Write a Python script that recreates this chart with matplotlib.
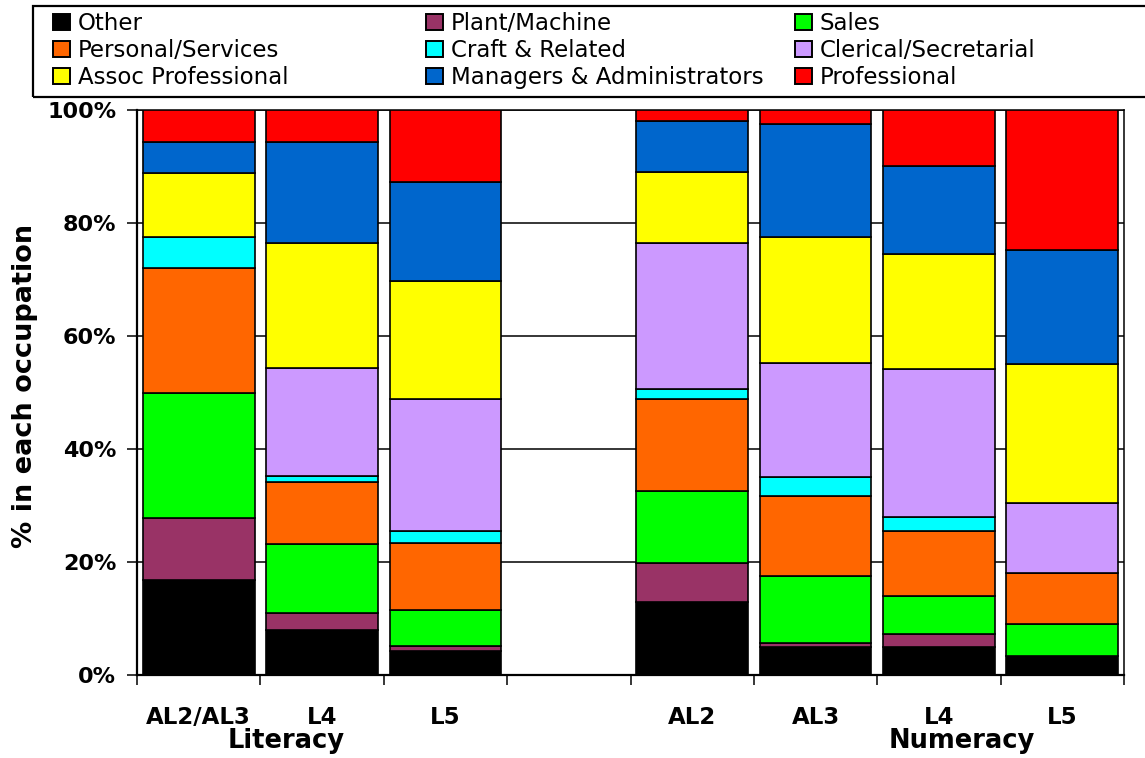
import matplotlib
matplotlib.use("Agg")
from matplotlib import pyplot as plt
from matplotlib.patches import Patch, Rectangle
from matplotlib.transforms import blended_transform_factory
import numpy as np

# bar labels, with an empty slot between the two groups
bar_labels = ["AL2/AL3", "L4", "L5", "AL2", "AL3", "L4", "L5"]
bar_pos = [0, 1, 2, 4, 5, 6, 7]
groups = ["Literacy", "Numeracy"]
group_x = [0.707, 6.185]

occupations = ["Other", "Plant/Machine", "Sales", "Personal/Services",
               "Craft & Related", "Clerical/Secretarial", "Assoc Professional",
               "Managers & Administrators", "Professional"]
colors = ["#000000", "#993366", "#00FF00", "#FF6600", "#00FFFF",
          "#CC99FF", "#FFFF00", "#0066CC", "#FF0000"]

# % in each occupation, one list per occupation (bars in order of bar_labels)
other = [16.8, 8.0, 4.3, 12.9, 5.0, 5.0, 3.4]
plant = [11.0, 3.0, 0.9, 7.0, 0.7, 2.3, 0.0]
sales = [22.1, 12.2, 6.3, 12.7, 11.9, 6.6, 5.6]
personal = [22.1, 11.0, 11.8, 16.2, 14.1, 11.5, 9.0]
craft = [5.5, 1.1, 2.1, 1.9, 3.4, 2.6, 0.0]
clerical = [0.0, 19.0, 23.4, 25.7, 20.1, 26.1, 12.4]
assoc = [11.3, 22.2, 21.0, 12.7, 22.4, 20.5, 24.6]
managers = [5.5, 17.8, 17.4, 9.0, 20.0, 15.5, 20.2]
professional = [5.7, 5.7, 12.8, 1.9, 2.4, 9.9, 24.8]

series = [other, plant, sales, personal, craft, clerical, assoc, managers, professional]

W, H = 1145, 758
fig = plt.figure(figsize=(W / 100, H / 100), dpi=100)
ax_l, ax_r, ax_t, ax_b = 137, 1124, 110, 675
ax = fig.add_axes([ax_l / W, 1 - ax_b / H, (ax_r - ax_l) / W, (ax_b - ax_t) / H])

bottom = np.zeros(len(bar_pos))
handles = []
for vals, name, col in zip(series, occupations, colors):
    vals = np.array(vals)
    ax.bar(bar_pos, vals, width=0.905, bottom=bottom, color=col,
           edgecolor="black", linewidth=1.2, zorder=3)
    bottom += vals
    handles.append(Patch(facecolor=col, edgecolor="black", linewidth=1.4, label=name))

ax.set_xlim(-0.5, 7.5)
ax.set_ylim(0, 100)
ax.set_yticks([0, 20, 40, 60, 80, 100])
ax.set_yticklabels(["0%", "20%", "40%", "60%", "80%", "100%"],
                   fontsize=16, fontweight="bold")
ax.yaxis.grid(True, color="black", linewidth=1.1, zorder=0)
ax.set_axisbelow(True)
ax.tick_params(axis="y", length=7, width=1.1, pad=8)

ax.set_xticks(bar_pos)
ax.set_xticklabels(bar_labels, fontsize=16.5, fontweight="bold")
ax.set_xticks(np.arange(-0.5, 8, 1), minor=True)
ax.tick_params(axis="x", which="major", length=0, pad=22)
ax.tick_params(axis="x", which="minor", length=7, width=1.1)

for s in ["left", "bottom"]:
    ax.spines[s].set_linewidth(1.6)
for s in ["top", "right"]:
    ax.spines[s].set_linewidth(1.1)

ax.set_ylabel("% in each occupation", fontsize=19.5, fontweight="bold")
ax.yaxis.set_label_coords((38 - ax_l) / (ax_r - ax_l), 0.512)

trans = blended_transform_factory(ax.transData, fig.transFigure)
for gx, g in zip(group_x, groups):
    ax.text(gx, 1 - 748 / H, g, transform=trans, ha="center", va="baseline",
            fontsize=18.5, fontweight="bold")

# legend: three columns inside one frame
col_x = [53, 426, 795]
order = [[0, 3, 6], [1, 4, 7], [2, 5, 8]]
for cx, idx in zip(col_x, order):
    fig.legend([handles[i] for i in idx], [occupations[i] for i in idx],
               loc="upper left", bbox_to_anchor=(cx / W, 1 - 12 / H),
               frameon=False, borderpad=0, borderaxespad=0,
               handlelength=0.72, handleheight=0.72, handletextpad=0.35,
               labelspacing=0.18, fontsize=16.5)
fig.patches.append(Rectangle((33 / W, 1 - 97 / H), (1160 - 33) / W, 91 / H,
                             transform=fig.transFigure, fill=False,
                             edgecolor="black", linewidth=1.6))

plt.savefig("out.png", dpi=100)
